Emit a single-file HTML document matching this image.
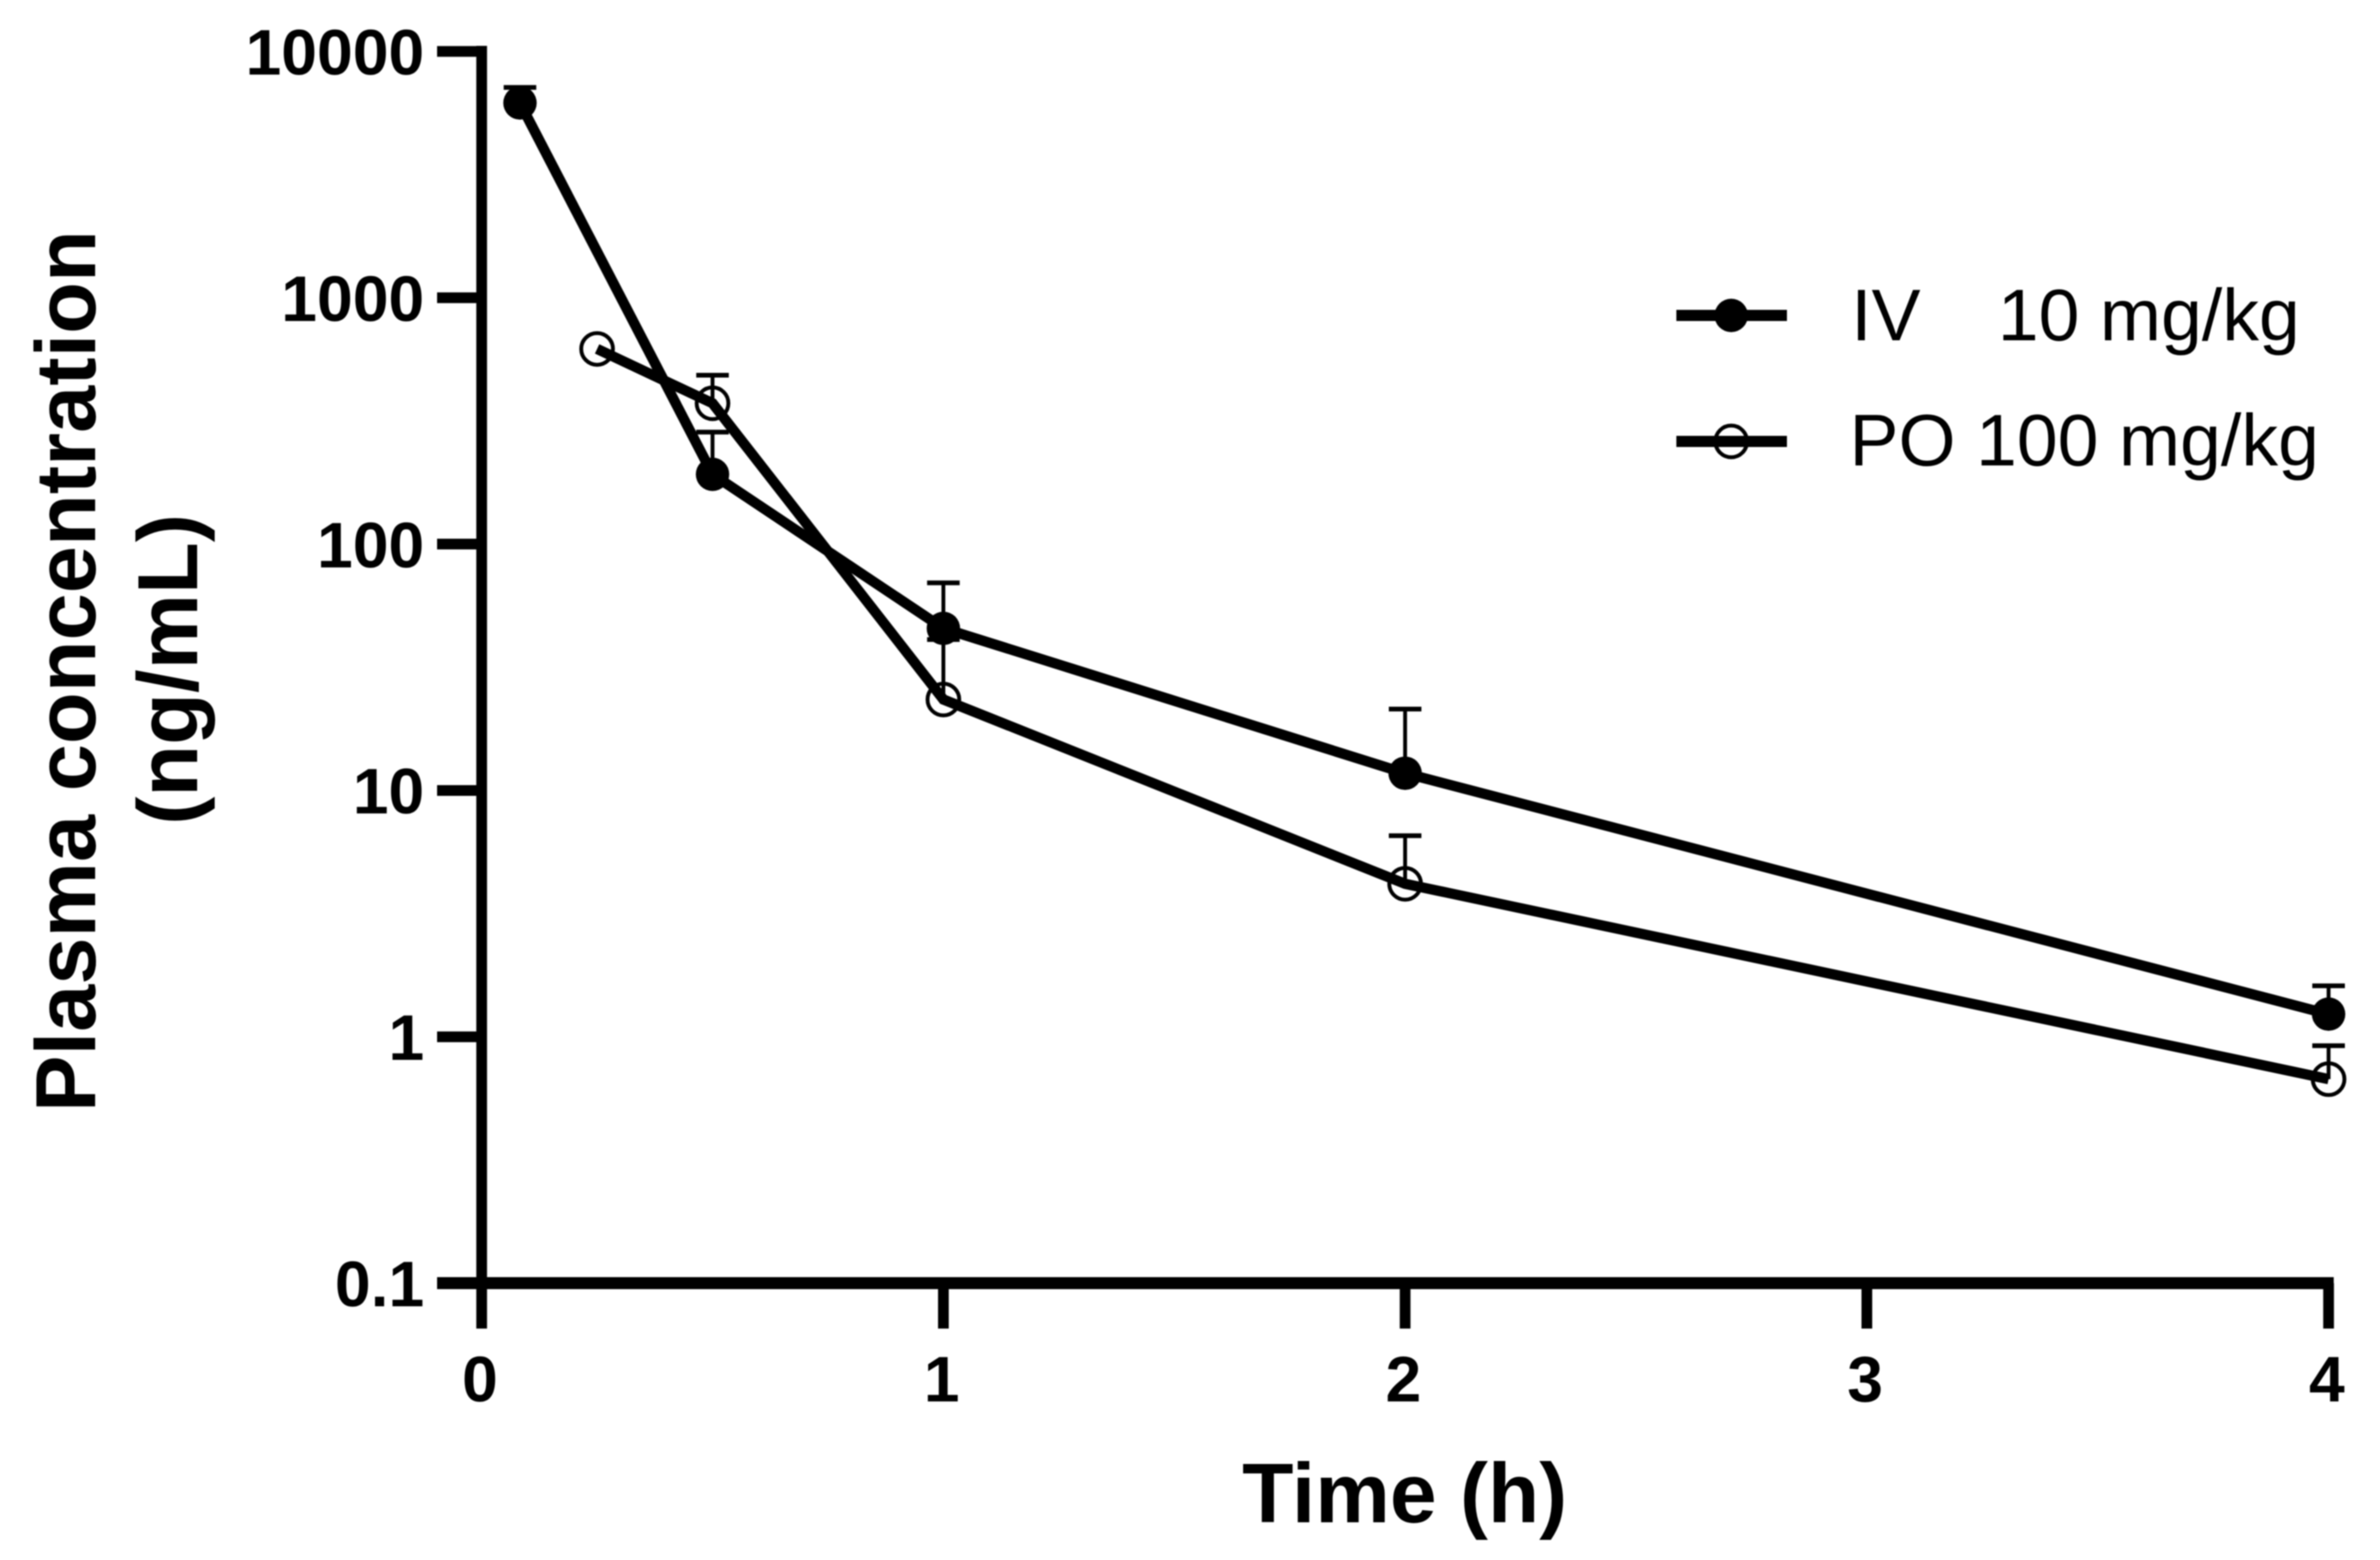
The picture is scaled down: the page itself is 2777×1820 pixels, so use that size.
<!DOCTYPE html>
<html lang="en">
<head>
<meta charset="utf-8">
<title>Plasma concentration vs time</title>
<style>
html,body{margin:0;padding:0;background:#fff;width:2777px;height:1820px;overflow:hidden}
svg{display:block}
text{font-family:"Liberation Sans",sans-serif;fill:#000}
.b{font-weight:bold}
</style>
</head>
<body>
<svg id="chart" xmlns="http://www.w3.org/2000/svg" width="2777" height="1820" viewBox="0 0 2777 1820">
  <defs>
    <filter id="soft" x="0" y="0" width="100%" height="100%" filterUnits="userSpaceOnUse" primitiveUnits="userSpaceOnUse">
      <feGaussianBlur stdDeviation="0.8"/>
    </filter>
  </defs>
  <rect width="2777" height="1820" fill="#fff"/>
  <g filter="url(#soft)">
  <g id="axes"></g>
  <g id="plot"></g>
  <text class="b" font-size="99" text-anchor="middle" transform="translate(111,783) rotate(-90)">Plasma concentration</text>
  <text class="b" font-size="99" text-anchor="middle" transform="translate(230,781) rotate(-90)">(ng/mL)</text>
  <text class="b" font-size="98" text-anchor="middle" x="1639" y="1776">Time (h)</text>
  <g id="legend">
    <g>
      <line x1="1956" x2="2085" y1="368" y2="368" stroke="#000" stroke-width="13"/>
      <circle cx="2020" cy="368" r="19.5" fill="#000"/>
      <text x="2160" y="397" font-size="85.7">IV <tspan x="2331">10 mg/kg</tspan></text>
    </g>
    <g>
      <line x1="1956" x2="2085" y1="515" y2="515" stroke="#000" stroke-width="13"/>
      <circle cx="2020" cy="515" r="18.5" fill="none" stroke="#000" stroke-width="4.5"/>
      <text x="2158" y="543" font-size="85.7" style="white-space:pre">PO 100 mg/kg</text>
    </g>
  </g>
  </g>
</svg>
<script>
const timesIV = [0.083, 0.5, 1, 2, 4];
const concIV = [6180, 192, 45.5, 11.75, 1.236];
const upperIV = [7140, 285, 69.6, 21.4, 1.61];
const timesPO = [0.25, 0.5, 1, 2, 4];
const concPO = [620, 373, 23.4, 4.18, 0.673];
const upperPO = [null, 485, 41, 6.55, 0.92];
const xTicks = [0, 1, 2, 3, 4];
const yTicks = [0.1, 1, 10, 100, 1000, 10000];
const yTickLabels = ['0.1', '1', '10', '100', '1000', '10000'];

const NS = 'http://www.w3.org/2000/svg';
const X0 = 562, X1 = 2717, XMIN = 0, XMAX = 4;
const Y0 = 1497, Y1 = 60, YMINLOG = -1, YMAXLOG = 4;
function sx(t) { return X0 + (t - XMIN) / (XMAX - XMIN) * (X1 - X0); }
function sy(v) { return Y0 + (Math.log10(v) - YMINLOG) / (YMAXLOG - YMINLOG) * (Y1 - Y0); }
function make(tag, attrs, parent) {
  const node = document.createElementNS(NS, tag);
  for (const k in attrs) node.setAttribute(k, attrs[k]);
  parent.appendChild(node);
  return node;
}

const axes = document.getElementById('axes');
const plot = document.getElementById('plot');

const yAxis = make('line', {x1: X0, x2: X0, y1: sy(10000) - 6.5, y2: Y0, stroke: '#000', 'stroke-width': 12.5}, axes);


const xAxis = make('line', {x1: 510, x2: X1 + 6, y1: Y0, y2: Y0, stroke: '#000', 'stroke-width': 14}, axes);



xTicks.forEach(function (t) {
  const tick = make('line', {x1: sx(t), x2: sx(t), y1: Y0, y2: 1550, stroke: '#000', 'stroke-width': 12.5}, axes);
  
  
  const label = make('text', {x: sx(t) - 2, y: 1635, 'font-size': 75, 'text-anchor': 'middle', 'class': 'b'}, axes);
  label.textContent = String(t);
  
  
});

yTicks.forEach(function (v, i) {
  const tick = make('line', {x1: 510, x2: X0, y1: sy(v), y2: sy(v), stroke: '#000', 'stroke-width': 12.5}, axes);
  
  
  const label = make('text', {x: 495, y: sy(v) + 27, 'font-size': 75, 'text-anchor': 'end', 'class': 'b'}, axes);
  label.textContent = yTickLabels[i];
  
  
});

function drawSeries(name, times, conc, upper, filled) {
  const group = make('g', {}, plot);
  
  

  times.forEach(function (t, i) {
    if (upper[i] === null) return;
    const stem = make('line', {x1: sx(t), x2: sx(t), y1: sy(conc[i]), y2: sy(upper[i]), stroke: '#000', 'stroke-width': 4.5}, group);
    
    
    const cap = make('line', {x1: sx(t) - 19, x2: sx(t) + 19, y1: sy(upper[i]), y2: sy(upper[i]), stroke: '#000', 'stroke-width': 5.5}, group);
    
    
  });

  const pts = times.map(function (t, i) { return sx(t).toFixed(1) + ',' + sy(conc[i]).toFixed(1); }).join(' ');
  const line = make('polyline', {points: pts, fill: 'none', stroke: '#000', 'stroke-width': 12, 'stroke-linejoin': 'miter'}, group);
  
  

  times.forEach(function (t, i) {
    const attrs = filled
      ? {cx: sx(t), cy: sy(conc[i]), r: 19.5, fill: '#000'}
      : {cx: sx(t), cy: sy(conc[i]), r: 18.5, fill: 'none', stroke: '#000', 'stroke-width': 4.5};
    const point = make('circle', attrs, group);
    
    
  });
}

drawSeries('iv', timesIV, concIV, upperIV, true);
drawSeries('po', timesPO, concPO, upperPO, false);
</script>
</body>
</html>
